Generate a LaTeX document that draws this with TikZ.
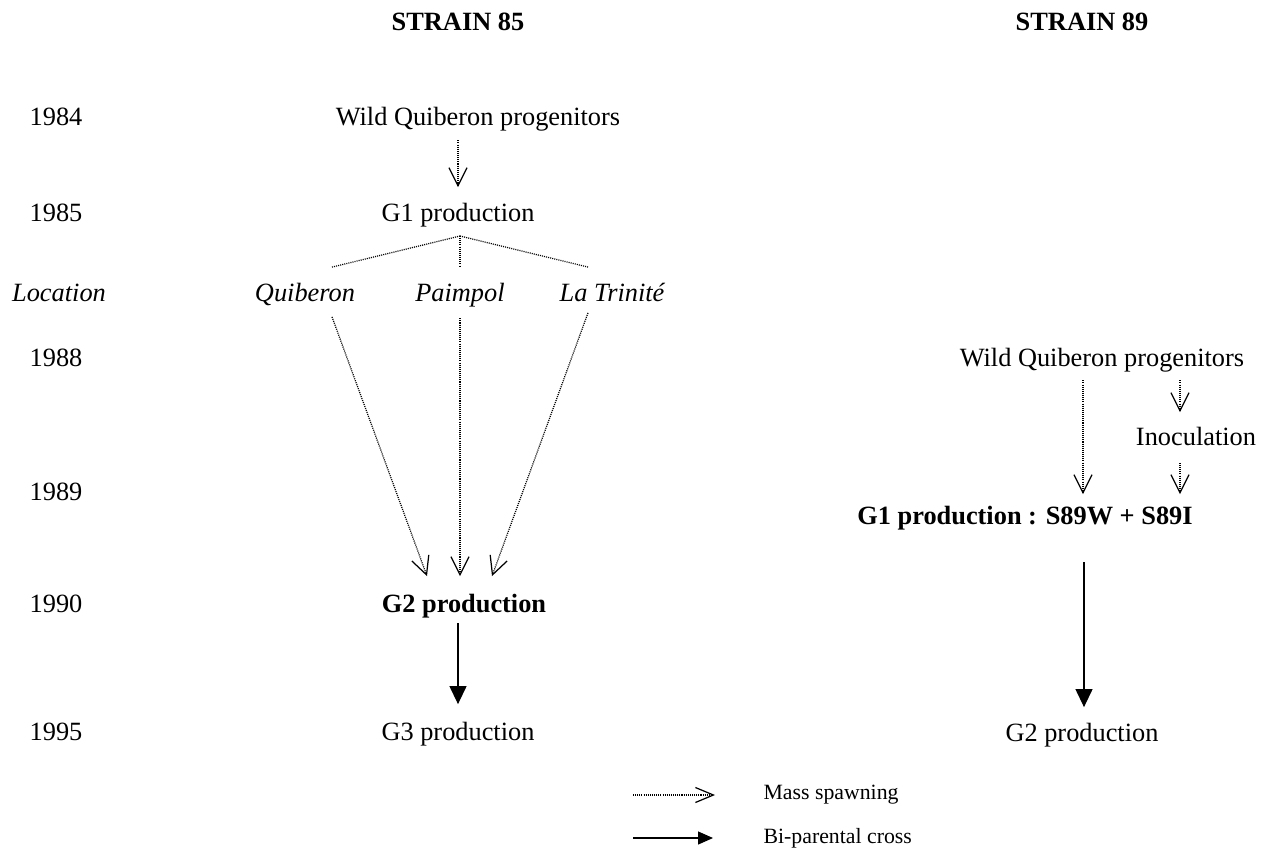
\documentclass[tikz,border=0pt]{standalone}
\usepackage{fontspec}
\setmainfont{Liberation Serif}
\usetikzlibrary{arrows.meta}
\usetikzlibrary{calc}

\begin{document}
\begin{tikzpicture}[x=0.02cm, y=-0.02cm, line width=0.7pt, font=\fontsize{15}{18}\selectfont]
\tikzstyle{txt}=[inner sep=0pt, anchor=base]
\tikzstyle{loc}=[txt, font=\fontsize{15}{18}\selectfont\itshape]
\tikzstyle{keystage}=[txt, font=\fontsize{15}{18}\selectfont\bfseries]
\tikzstyle{strainhead}=[txt, font=\fontsize{15}{18}\selectfont\bfseries]
\tikzstyle{keytext}=[inner sep=0pt, anchor=west, font=\fontsize{12.4}{14}\selectfont]
\tikzstyle{mass}=[dash pattern=on 0.6pt off 0.6pt, -{Straight Barb[length=0.36cm, width=0.36cm]}]
\tikzstyle{cross}=[-{Triangle[length=0.36cm, width=0.34cm]}]

	\useasboundingbox (0,0) rectangle (1265,856);

	%headings
	\node[strainhead] (s85) at (458,30) {STRAIN 85};
	\node[strainhead] (s89) at (1082,30) {STRAIN 89};

	%years
	\node[txt] (y84) at (56,125) {1984};
	\node[txt] (y85) at (56,221) {1985};
	\node[loc] (yloc) at (59,301) {Location};
	\node[txt] (y88) at (56,366) {1988};
	\node[txt] (y89) at (56,500) {1989};
	\node[txt] (y90) at (56,612) {1990};
	\node[txt] (y95) at (56,740) {1995};

	%strain 85
	\node[txt] (wqp85) at (478,125) {Wild Quiberon progenitors};
	\node[txt] (g1) at (458,221) {G1 production};
	\node[loc] (quib) at (305,301) {Quiberon};
	\node[loc] (paim) at (460,301) {Paimpol};
	\node[loc] (trin) at (612,301) {La Trinité};
	\node[keystage] (g2) at (464,612) {G2 production};
	\node[txt] (g3) at (458,740) {G3 production};
	\coordinate (split) at (460,236);

	%strain 89
	\node[txt] (wqp89) at (1102,366) {Wild Quiberon progenitors};
	\node[txt] (inoc) at (1196,445) {Inoculation};
	\node[keystage] (g1s89) at (1025,524) {G1 production : S89W + S89I};
	\node[txt] (g2r) at (1082,741) {G2 production};

	%paths
	\draw[mass] ($(wqp85.south -| g1)+(0,9)$) -- ($(g1.north)+(0,-15)$);
	\draw[dash pattern=on 0.6pt off 0.6pt] (split) -- ($(quib.north)+(27,-15)$);
	\draw[dash pattern=on 0.6pt off 0.6pt] (split) -- ($(paim.north)+(0,-15)$);
	\draw[dash pattern=on 0.6pt off 0.6pt] (split) -- ($(trin.north)+(-24,-15)$);
	\draw[mass] ($(quib.south)+(27,11)$) -- ($(g2.north)+(-37,-17)$);
	\draw[mass] ($(paim.south)+(0,11)$) -- ($(g2.north)+(-4,-17)$);
	\draw[mass] ($(trin.south)+(-24,11)$) -- ($(g2.north)+(28,-17)$);
	\draw[cross] ($(g2.south -| g3)+(0,5)$) -- ($(g3.north)+(0,-17)$);

	\draw[mass] ($(wqp89.south)+(-19,8)$) -- ($(g1s89.north)+(58,-11)$);
	\draw[mass] ($(wqp89.south)+(78,8)$) -- ($(inoc.north)+(-16,-14)$);
	\draw[mass] ($(inoc.south)+(-16,17)$) -- ($(g1s89.north)+(155,-11)$);
	\draw[cross] ($(g1s89.south)+(59,32)$) -- ($(g2r.north)+(2,-15)$);

	%legend
	\node[keytext] (kmass) at (763,795) {Mass spawning};
	\node[keytext] (kcross) at (763,838) {Bi-parental cross};
	\coordinate (kmass0) at (633,795);
	\coordinate (kcross0) at (633,838);
	\draw[dash pattern=on 0.6pt off 0.6pt, -{Straight Barb[length=0.36cm, width=0.3cm]}] (kmass0) -- ($(kmass.west)+(-48,0)$);
	\draw[-{Triangle[length=0.3cm, width=0.26cm]}] (kcross0) -- ($(kcross.west)+(-50,0)$);

\end{tikzpicture}
\end{document}
